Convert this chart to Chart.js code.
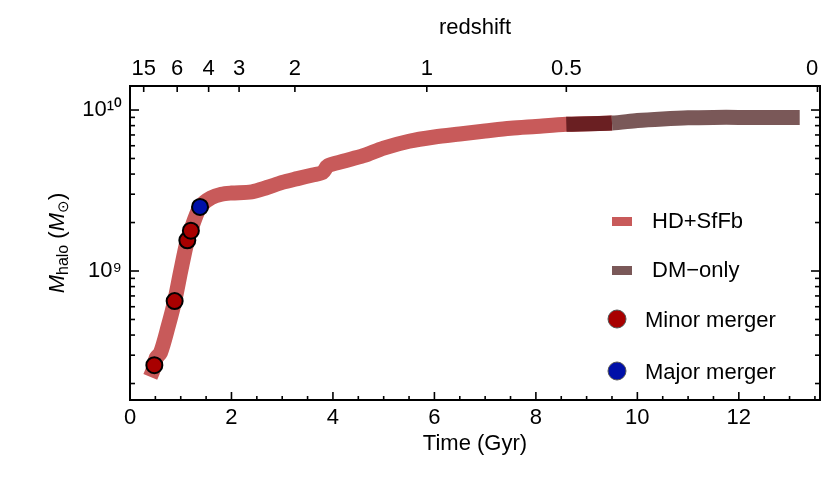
<!DOCTYPE html>
<html><head><meta charset="utf-8">
<script src="https://cdn.jsdelivr.net/npm/chart.js@4/dist/chart.umd.min.js"></script>
<style>html,body{margin:0;padding:0;background:#fff}#c{display:block}</style>
</head><body><canvas id="c" width="830" height="487"></canvas>
<script>
const hdTime = [0.4,0.45,0.52,0.6,0.75,0.88,1.0,1.13,1.2,1.3,1.4,1.6,1.8,2.0,2.4,2.7,3.0,3.3,3.6,3.8,3.9,4.2,4.6,5.0,5.5,6.0,6.5,7.0,7.5,8.0,8.6,9.5];
const hdMass = [2.2e8,2.4e8,2.9e8,3.1e8,4.5e8,6.5e8,1.0e9,1.55e9,1.8e9,2.2e9,2.55e9,2.85e9,3.0e9,3.05e9,3.1e9,3.3e9,3.55e9,3.75e9,3.95e9,4.1e9,4.5e9,4.8e9,5.2e9,5.8e9,6.4e9,6.8e9,7.1e9,7.4e9,7.7e9,7.9e9,8.15e9,8.3e9];
const dmTime = [8.6,9.5,10.0,10.5,11.0,11.5,12.0,13.2];
const dmMass = [8.15e9,8.3e9,8.6e9,8.8e9,8.95e9,9.0e9,9.0e9,9.0e9];
const minorTime = [0.48,0.88,1.13,1.2];
const minorMass = [2.6e8,6.5e8,1.55e9,1.78e9];
const majorTime = [1.38];
const majorMass = [2.5e9];
const xTicks = [0,2,4,6,8,10,12];
const zLabels = ['15','6','4','3','2','1','0.5','0'];
const zTimes = [0.27,0.93,1.55,2.15,3.25,5.85,8.6,13.55];
const yMajor = [1e9,1e10];
const yMajorLabels = ['10⁹','10¹⁰'];

const pts=(t,m)=>t.map((v,i)=>({x:v,y:m[i]}));
const FONT='"Liberation Sans", Arial, sans-serif';

const deco={id:'deco',afterDraw(ch){
  const c=ch.ctx,a=ch.chartArea,xs=ch.scales.x,ys=ch.scales.y;
  c.save();c.strokeStyle='#000';c.lineWidth=2;
  c.strokeRect(a.left,a.top,a.right-a.left,a.bottom-a.top);
  c.lineWidth=1.6;
  const tick=(x1,y1,x2,y2)=>{c.beginPath();c.moveTo(x1,y1);c.lineTo(x2,y2);c.stroke();};
  for(let t=0;t<=13.5;t+=0.5){const x=xs.getPixelForValue(t);const L=(t%2===0)?8:4;tick(x,a.bottom,x,a.bottom-L);}
  zTimes.forEach(t=>{const x=xs.getPixelForValue(t);tick(x,a.top,x,a.top+6);});
  for(let d=8;d<=10;d++)for(let k=1;k<10;k++){const v=k*Math.pow(10,d);if(v<ys.min||v>ys.max)continue;const y=ys.getPixelForValue(v);const L=k===1?9:5;tick(a.left,y,a.left+L,y);tick(a.right,y,a.right-L,y);}
  c.fillStyle='#000';c.font='22px '+FONT;c.textAlign='center';c.textBaseline='top';
  xTicks.forEach(t=>c.fillText(String(t),xs.getPixelForValue(t),a.bottom+7));
  c.textBaseline='bottom';
  zTimes.forEach((t,i)=>c.fillText(zLabels[i],Math.min(xs.getPixelForValue(t),a.right-8),a.top-6));
  c.textAlign='right';c.textBaseline='middle';
  yMajor.forEach((v,i)=>c.fillText(yMajorLabels[i],a.left-8,ys.getPixelForValue(v)));
  c.textAlign='center';c.textBaseline='top';
  c.fillText('Time (Gyr)',(a.left+a.right)/2,a.bottom+33);
  c.textBaseline='bottom';c.fillText('redshift',(a.left+a.right)/2,17+22);
  // y title
  c.save();c.translate(58,(a.top+a.bottom)/2);c.rotate(-Math.PI/2);
  c.textAlign='left';c.textBaseline='middle';
  const parts=[['italic 22px '+FONT,'M',0],['16px '+FONT,'halo',6],['22px '+FONT,' (',0],['italic 22px '+FONT,'M',0],['15px '+FONT,'⊙',6],['22px '+FONT,')',0]];
  let w=0;parts.forEach(p=>{c.font=p[0];w+=c.measureText(p[1]).width;});
  let x=-w/2;parts.forEach(p=>{c.font=p[0];c.fillText(p[1],x,p[2]);x+=c.measureText(p[1]).width;});
  c.restore();
  // legend
  c.font='22px '+FONT;c.textAlign='left';c.textBaseline='middle';
  c.fillStyle='#c85a5a';c.fillRect(612,217,20,9);c.fillStyle='#000';c.fillText('HD+SfFb',652,222);
  c.fillStyle='#7a5858';c.fillRect(612,266,20,9);c.fillStyle='#000';c.fillText('DM\u2212only',652,271);
  c.beginPath();c.arc(617,319,9,0,Math.PI*2);c.fillStyle='#a80000';c.fill();c.strokeStyle='#555';c.lineWidth=1;c.stroke();
  c.fillStyle='#000';c.fillText('Minor merger',645,321);
  c.beginPath();c.arc(617,371,9,0,Math.PI*2);c.fillStyle='#0010a8';c.fill();c.stroke();
  c.fillStyle='#000';c.fillText('Major merger',645,373);
  c.restore();
}};

new Chart(document.getElementById('c'),{
  type:'line',
  data:{datasets:[
    {data:pts(hdTime,hdMass),borderColor:'#c85a5a',borderWidth:15,pointRadius:0,borderCapStyle:'butt',borderJoinStyle:'round',tension:0.3,order:3},
    {data:pts(dmTime,dmMass),borderColor:'#7a5858',borderWidth:15,pointRadius:0,borderCapStyle:'butt',tension:0.3,order:2,
      segment:{borderColor:ctx=>ctx.p0DataIndex===0?'#6a1f22':'#7a5858'}},
    {data:pts(minorTime,minorMass),showLine:false,pointRadius:8,pointBackgroundColor:'#a80000',pointBorderColor:'#000',pointBorderWidth:2,order:1},
    {data:pts(majorTime,majorMass),showLine:false,pointRadius:8,pointBackgroundColor:'#0010a8',pointBorderColor:'#000',pointBorderWidth:2,order:0}
  ]},
  options:{responsive:false,animation:false,devicePixelRatio:1,
    layout:{padding:{left:130,right:3,top:86,bottom:87}},
    plugins:{legend:{display:false},tooltip:{enabled:false}},
    scales:{
      x:{type:'linear',min:0,max:13.6,display:false},
      y:{type:'logarithmic',min:1.58e8,max:1.41e10,display:false}
    }},
  plugins:[deco]
});
</script></body></html>
